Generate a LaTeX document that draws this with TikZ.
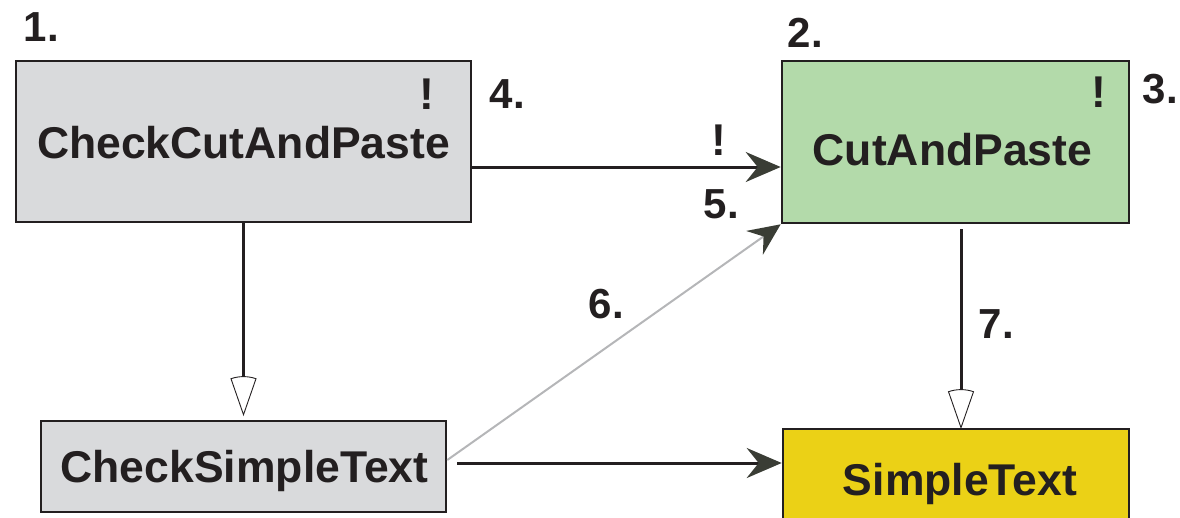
\documentclass[tikz,border=0pt]{standalone}
\usepackage{fontspec}
\setmainfont{Liberation Sans}
\usetikzlibrary{arrows.meta}

\definecolor{ink}{HTML}{231F20}
\definecolor{boxgray}{HTML}{D9DADC}
\definecolor{boxgreen}{HTML}{B3DAAA}
\definecolor{boxyellow}{HTML}{EBD116}
\definecolor{tipdark}{HTML}{3A3D35}
\definecolor{linkgray}{HTML}{B5B6B8}

\begin{document}
\begin{tikzpicture}[x=1pt,y=-1pt,
  box/.style={draw=ink, line width=2.6pt, rectangle, inner sep=0pt},
  title/.style={font=\fontsize{44.5}{50}\selectfont\bfseries, text=ink, inner sep=0pt, anchor=base},
  num/.style={font=\fontsize{42}{48}\selectfont\bfseries, text=ink, inner sep=0pt, anchor=base west},
  flow/.style={draw=ink, line width=3pt, -{Stealth[length=35pt,width=30pt,inset=12pt,color=tipdark]}},
  grayflow/.style={draw=linkgray, line width=2pt, -{Stealth[length=32pt,width=29pt,inset=11pt,color=tipdark]}},
  shaft/.style={draw=ink, line width=3pt},
  cone/.pic={\draw[ink, line width=0.9pt, fill=white]
      (0,0) -- (-12.5,-36) .. controls (-4.4,-38.8) and (4.4,-38.8) .. (12.5,-36) -- cycle;}
]
\useasboundingbox (0,0) rectangle (1180,517);
\clip (0,0) rectangle (1180,517);

% boxes
\node[box, fill=boxgray,   minimum width=455pt, minimum height=161pt] (ccp) at (243.5,141.5) {};
\node[box, fill=boxgreen,  minimum width=347pt, minimum height=162pt] (cp)  at (955.5,142) {};
\node[box, fill=boxgray,   minimum width=405pt, minimum height=91pt]  (cst) at (243.5,466.5) {};
\node[box, fill=boxyellow, minimum width=346pt, minimum height=131pt] (st)  at (956,494.5) {};

% box titles
\node[title] (ccpt) at (243.5,158) {CheckCutAndPaste};
\node[title] (cpt)  at (952.5,165) {CutAndPaste};
\node[title] (cstt) at (244.5,482) {CheckSimpleText};
\node[title] (stt)  at (960,495) {SimpleText};

% exclamation marks
\node[title] (ex1) at (427,109) {!};
\node[title] (ex2) at (1099,107) {!};
\node[title] (ex3) at (719,155) {!};

% step numbers
\node[num] (n1) at (23.5,41) {1.};
\node[num] (n2) at (787.5,47) {2.};
\node[num] (n3) at (1142.5,103) {3.};
\node[num] (n4) at (489.5,108) {4.};
\node[num] (n5) at (703.5,218) {5.};
\node[num] (n6) at (588.5,318) {6.};
\node[num] (n7) at (978.5,338) {7.};

% filled arrows
\coordinate (a1) at ([yshift=-25.5pt]ccp.east);
\draw[flow] (a1) -- (a1 -| cp.west);
\coordinate (a2) at ([xshift=10pt,yshift=3.5pt]cst.east);
\draw[flow] (a2) -- (a2 -| st.west);
\draw[grayflow] ([yshift=6.5pt]cst.east) -- (cp.south west);

% hollow-headed links
\coordinate (k1) at ([yshift=5pt]cst.north);
\draw[shaft] (ccp.south) -- ([yshift=37pt]k1);
\pic at (k1) {cone};

\coordinate (k2) at ([xshift=5pt]st.north);
\draw[shaft] ([xshift=5.5pt,yshift=-5pt]cp.south) -- ([yshift=37pt]k2);
\pic at (k2) {cone};
\end{tikzpicture}
\end{document}
